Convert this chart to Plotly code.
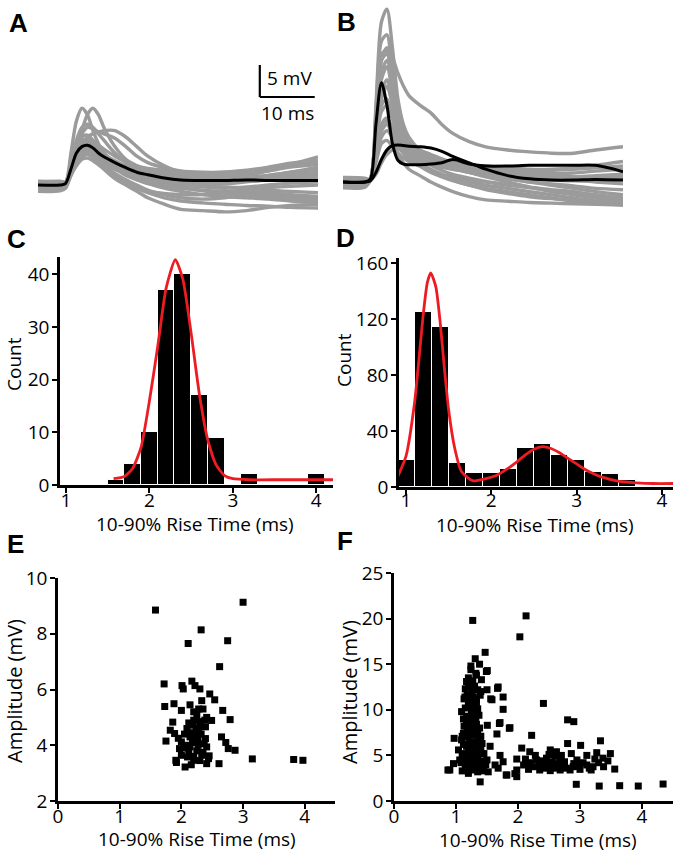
import plotly.graph_objects as go

W, H = 677, 853

# ---------------- DATA ----------------
T_MS = [0, 4, 5, 6, 7, 8, 9, 10, 11, 12, 14, 16, 18, 20, 23, 26, 30, 34, 38, 42, 46, 51]

A_GRAY = [
    [0.3, 0.2, 0.3, 5, 10, 12, 11, 8.5, 6.5, 5, 3.5, 2.5, 2, 1.5, 1, 0.8, 0.5, 0.5, 0.8, 1.2, 1.5, 1.8],
    [-0.3, -0.2, 0.2, 2, 5, 8.5, 11, 12, 11, 9, 6, 4, 3, 2.3, 1.8, 1.5, 1.2, 1.0, 1.2, 1.5, 2, 2.5],
    [0.5, 0.4, 0.4, 2, 4, 6, 7.5, 8, 8.3, 8.5, 8.5, 7.5, 6, 4.5, 3, 2, 1.5, 1.2, 1.5, 2.2, 3.2, 4.4],
    [-0.6, -0.5, 0.2, 3, 6, 8, 9, 8.8, 8.3, 8, 7.3, 6, 4.5, 3.5, 2.7, 2.2, 2, 2, 2.2, 2.6, 3, 3.5],
    [0.1, 0.0, 0.2, 3, 6, 7.5, 7.8, 7, 6, 5, 3.5, 2.5, 1.8, 1.3, 0.8, 0.5, 0.3, 0.2, 0.5, 0.8, 1.2, 1.5],
    [-0.8, -0.7, -0.3, 2, 4, 5, 5, 4.5, 3.5, 2.5, 1, 0, -1, -2, -3, -3.8, -4, -4.2, -4, -3.5, -3.2, -3.0],
    [-0.5, -0.6, -0.2, 2, 3.5, 4.5, 4.8, 4.3, 3.5, 2.8, 1.5, 0.5, -0.5, -1.2, -2, -2.5, -2.8, -3, -3.2, -3.3, -3.5, -3.6],
    [0.6, 0.5, 0.4, 2.5, 5, 6, 6, 5.5, 4.8, 4, 3, 2, 1.5, 1, 0.5, 0.3, 0, -0.3, -0.5, -0.8, -1, -1.2],
    [-0.9, -0.8, -0.4, 2.5, 4.5, 5.5, 5.5, 5, 4.3, 3.5, 2.5, 1.5, 0.8, 0.2, -0.3, -0.5, -0.8, -1, -1.2, -1.5, -2, -2.3],
    [0.2, 0.3, 0.3, 3.5, 7, 9, 9.5, 9, 8, 7, 5, 3.5, 2.5, 2, 1.5, 1.2, 1, 0.8, 1, 1.3, 1.8, 2.3],
    [-0.2, -0.3, 0.2, 2, 4, 5.2, 5.8, 5.5, 5, 4.5, 3.5, 2.7, 2.2, 1.8, 1.5, 1.2, 1, 1, 1.2, 1.5, 2, 2.8],
    [0.4, 0.3, 0.2, 2.2, 4.2, 5.3, 5.5, 5, 4.2, 3.5, 2.5, 1.8, 1.2, 0.8, 0.3, 0, -0.3, -0.5, -0.3, 0, 0.3, 0.5],
    [-0.7, -0.6, -0.3, 1.5, 3.5, 4.5, 4.8, 4.5, 4, 3.5, 2.5, 1.8, 1, 0.3, -0.5, -1, -1.5, -1.8, -2, -2.2, -2.5, -2.8],
    [0.0, 0.1, 0.2, 3, 6, 7, 7, 6.5, 5.5, 4.5, 3, 2, 1.5, 1.2, 1, 0.8, 0.5, 0.5, 0.6, 0.8, 1, 1.2],
    [0.5, 0.6, 0.5, 2.5, 5, 6.5, 6.8, 6.3, 5.5, 4.8, 3.8, 3, 2.5, 2.2, 2, 1.8, 1.5, 1.5, 1.8, 2.2, 2.8, 3.2],
    [-0.4, -0.5, -0.1, 1.8, 3.8, 5, 5.3, 4.8, 4, 3.2, 1.8, 0.8, 0, -0.8, -1.5, -2, -2.2, -2, -1.5, -1.5, -1.8, -2],
    [-1.0, -0.9, -0.5, 1.5, 3, 4, 4.2, 3.8, 3.2, 2.5, 1.2, 0.3, -0.5, -1, -1.3, -1.5, -1.5, -1.2, -1, -1.2, -1.5, -1.8],
    [0.2, 0.1, 0.1, 2.5, 5, 6.2, 6.4, 6, 5.3, 4.6, 3.4, 2.4, 1.7, 1.1, 0.5, 0.1, -0.2, -0.4, -0.6, -0.4, -0.2, 0.0],
    [0.0, -0.2, 0.1, 2.8, 5.5, 6.8, 7.2, 6.8, 6.2, 5.6, 4.5, 3.6, 3.0, 2.6, 2.3, 2.0, 1.9, 2.0, 2.3, 2.8, 3.4, 3.9],
    [-0.3, -0.4, 0.0, 2.2, 4.4, 5.6, 5.9, 5.5, 4.9, 4.2, 3.0, 2.0, 1.2, 0.6, 0.0, -0.4, -0.9, -1.3, -1.6, -1.9, -2.1, -2.4],
]
A_MEAN = [0, 0, 0.2, 2.5, 5, 6, 6.2, 5.8, 5, 4.4, 3.5, 2.7, 2, 1.6, 1.1, 0.8, 0.7, 0.7, 0.8, 0.7, 0.7, 0.7]

B_GRAY = [
    [0.3, 0.2, 0.5, 12, 25, 27, 21, 13, 9, 7, 5, 4, 3.5, 3, 2.5, 2, 1.5, 1, 0.8, 0.5, 0.5, 0.5],
    [-0.3, -0.2, 0.5, 9, 19, 21, 19.5, 17, 15, 13.5, 12, 10.8, 9, 7.6, 6.3, 5.5, 5, 4.7, 4.5, 4.5, 5, 5.5],
    [0.6, 0.5, 0.5, 10, 20, 20.5, 15, 10, 7, 5.5, 4, 3, 2.5, 2, 1.5, 1, 0.5, 0, -0.5, -1, -1.5, -2],
    [-0.6, -0.5, 0.5, 8, 16, 18, 14, 9, 6, 4.5, 3, 2, 1.2, 0.5, 0, -0.5, -1, -1.5, -2, -2.5, -3, -3.5],
    [0.1, 0.0, 0.4, 7, 13, 15, 12, 8, 6, 5, 4, 3.5, 3, 2.7, 2.5, 2.3, 2, 1.8, 1.8, 2, 2.2, 2.5],
    [-0.8, -0.7, 0.4, 6, 11, 12, 10, 7, 5, 3.8, 2.5, 1.5, 0.8, 0.2, -0.5, -1, -1.5, -2, -2.5, -3, -3.3, -3.6],
    [0.4, 0.5, 0.3, 5, 9, 10, 8.5, 6.5, 5, 4.2, 3.5, 3, 2.5, 2.2, 2, 1.8, 1.5, 1.2, 1, 0.8, 0.8, 0.8],
    [-0.4, -0.5, 0.3, 4, 7, 8, 7, 5.5, 4.5, 3.5, 2.5, 1.8, 1.2, 0.8, 0.3, 0, -0.5, -0.8, -1.2, -1.5, -2, -2.5],
    [0.5, 0.4, 0.2, 1.5, 3.5, 5, 5.8, 6, 5.8, 5.5, 5, 4.3, 3.6, 3, 2.3, 1.8, 1.2, 0.8, 0.5, 0.3, 0, -0.3],
    [-0.9, -0.8, 0.2, 1.2, 3, 4.3, 5, 5.2, 5, 4.8, 4.2, 3.5, 2.8, 2.2, 1.5, 0.8, 0, -0.8, -1.5, -2, -2.5, -3],
    [0.2, 0.1, 0.3, 5, 9, 9.5, 7, 4.5, 3, 2, 1, 0, -0.8, -1.5, -2.3, -2.8, -3, -3.2, -3.3, -3.4, -3.5, -3.6],
    [-0.2, -0.1, 0.4, 7, 14, 16, 13, 9, 6.5, 5, 3.5, 2.8, 2.3, 2, 1.8, 1.5, 1.2, 1, 0.8, 0.8, 1, 1.2],
    [0.7, 0.6, 0.3, 4, 8, 9, 7.5, 6, 5, 4.5, 4, 3.5, 3.2, 3, 2.7, 2.5, 2.3, 2, 2, 2.2, 2.6, 3.2],
    [0.0, -0.1, 0.5, 11, 22, 23, 17, 11, 8, 6, 4.5, 3.5, 2.8, 2.2, 1.5, 1, 0.5, 0, -0.3, -0.6, -1, -1.2],
    [-0.5, -0.6, 0.2, 3, 6, 6.5, 5.5, 4.5, 3.8, 3.2, 2.5, 1.8, 1, 0.3, -0.5, -1.2, -1.8, -2.3, -2.6, -2.8, -3, -3.2],
    [0.3, 0.4, 0.4, 6, 12, 13, 10, 7.5, 6, 5, 4, 3.2, 2.6, 2.2, 1.6, 1.2, 0.8, 0.5, 0.3, 0.2, 0.2, 0.3],
    [-0.1, 0.0, 0.5, 10, 19, 20, 16, 11, 8, 6.2, 4.6, 3.8, 3.2, 2.8, 2.4, 2.0, 1.6, 1.4, 1.3, 1.4, 1.7, 2.0],
    [0.4, 0.3, 0.4, 8, 17, 19, 15, 10, 7, 5.2, 3.6, 2.6, 1.8, 1.2, 0.6, 0.1, -0.4, -0.9, -1.3, -1.7, -2.1, -2.6],
]
B_MEAN_FAST = [0, 0, 0.5, 9, 15.5, 12, 6, 3.4, 2.8, 2.7, 2.7, 2.8, 3.0, 3.5, 2.8, 2.5, 2.5, 2.6, 2.6, 2.6, 2.6, 1.6]
B_MEAN_SLOW = [0, 0, 0.2, 1.5, 3.5, 5, 5.7, 5.8, 5.7, 5.6, 5.5, 5.3, 4.8, 4, 3, 2, 1, 0.5, 0.3, 0.3, 0.4, 0.3]

C_BIN_CENTERS = [1.6, 1.8, 2.0, 2.2, 2.4, 2.6, 2.8, 3.0, 3.2, 3.4, 3.6, 3.8, 4.0]
C_COUNTS = [1, 4, 10, 37, 40, 17, 9, 0, 2, 0, 0, 0, 2]
C_FIT_X = [1.57, 1.7, 1.8, 1.9, 2.0, 2.1, 2.2, 2.31, 2.4, 2.5, 2.6, 2.7, 2.8, 2.9, 3.0, 3.2, 3.6, 4.2]
C_FIT_Y = [1.2, 1.6, 3.2, 7.2, 16.0, 26.4, 37.4, 42.8, 39.1, 28.8, 17.1, 8.5, 3.8, 1.8, 1.2, 1.0, 1.0, 1.0]

D_BIN_CENTERS = [1.0, 1.2, 1.4, 1.6, 1.8, 2.0, 2.2, 2.4, 2.6, 2.8, 3.0, 3.2, 3.4, 3.6, 3.8, 4.0]
D_COUNTS = [19, 125, 114, 17, 10, 10, 13, 28, 31, 23, 19, 11, 9, 5, 0, 1]
D_FIT_X = [0.9, 1.0, 1.1, 1.15, 1.2, 1.25, 1.29, 1.35, 1.4, 1.45, 1.5, 1.57, 1.65, 1.78, 1.9, 2.05,
           2.2, 2.3, 2.4, 2.5, 2.6, 2.7, 2.8, 2.9, 3.0, 3.1, 3.2, 3.3, 3.5, 3.7, 3.9, 4.13]
D_FIT_Y = [7, 22, 60, 90, 122, 146, 153, 143, 118, 85, 55, 28, 11, 4.5, 5.5, 8,
           13.5, 18, 23, 27, 28.8, 27.5, 24.5, 20.5, 16.5, 12.5, 9.5, 7, 4, 3, 2.5, 2.5]

E_RISE = [1.58, 3.0, 2.32, 2.11, 2.75, 2.62, 1.72, 2.01, 2.03, 2.17, 2.22, 2.30, 2.46, 2.54,
          1.73, 1.88, 2.14, 2.0, 2.33, 2.35, 2.67, 2.79, 1.86, 2.25, 2.41, 2.49, 1.82, 1.89, 1.75,
          2.09, 2.18, 2.28, 2.39, 2.0, 2.14, 2.27, 2.39, 2.14, 2.27, 2.41, 1.97, 2.65, 2.72, 2.76, 2.87,
          1.91, 2.06, 2.1, 2.2, 2.33, 2.44, 2.41, 2.61, 2.0, 3.15, 3.82, 3.97, 1.92,
          2.12, 2.2, 2.3, 2.15, 2.22, 2.32, 2.08, 2.18, 2.25, 2.35, 2.12, 2.3, 2.2, 2.05, 2.37, 2.24,
          2.28, 2.2, 2.45, 2.3, 2.16, 2.05, 1.95, 2.38]
E_AMP = [8.85, 9.13, 8.14, 7.65, 7.75, 6.82, 6.2, 6.14, 6.02, 6.3, 6.14, 6.02, 5.84, 5.63,
         5.39, 5.49, 5.45, 5.25, 5.6, 5.3, 5.25, 4.92, 4.83, 5.07, 5.0, 4.89, 4.54, 4.42, 4.15,
         4.6, 4.72, 4.54, 4.66, 4.12, 4.3, 4.18, 4.24, 3.94, 4.0, 3.94, 3.88, 4.3, 4.1, 3.88, 3.82,
         3.46, 3.22, 3.58, 3.46, 3.64, 3.52, 3.34, 3.34, 3.64, 3.51, 3.49, 3.46, 3.38,
         4.8, 4.9, 4.85, 4.45, 4.35, 4.4, 4.0, 4.1, 3.8, 3.75, 3.75, 4.7, 3.6, 3.9, 4.05, 4.6,
         5.3, 5.2, 3.62, 3.45, 3.3, 4.4, 4.25, 4.9]

F_RISE = [1.27, 2.03, 2.13, 1.47, 1.31, 1.38, 1.24, 1.505, 1.33, 1.41, 1.17, 1.25, 1.5, 1.67, 1.145,
          1.39, 1.56, 1.76, 1.2, 1.33, 1.09, 1.76, 1.31, 1.17, 1.7, 1.87, 1.505, 1.12, 1.66, 0.97,
          1.09, 1.39, 1.31, 1.55, 1.04, 1.23, 1.41, 1.71, 1.06, 1.31, 1.5, 1.63, 1.76, 0.96, 0.9,
          0.87, 1.17, 1.33, 1.52, 1.68, 1.82, 1.95, 1.2, 1.39,
          1.10, 1.15, 1.2, 1.25, 1.3, 1.35, 1.4, 1.45,
          1.08, 1.13, 1.18, 1.22, 1.28, 1.33, 1.38, 1.43, 1.48,
          1.1, 1.15, 1.2, 1.25, 1.3, 1.35, 1.4, 1.45,
          1.12, 1.17, 1.22, 1.27, 1.32, 1.37, 1.42,
          1.1, 1.15, 1.2, 1.25, 1.3, 1.35, 1.4,
          1.13, 1.18, 1.23, 1.28, 1.33, 1.38,
          1.12, 1.17, 1.22, 1.27, 1.32, 1.37,
          1.15, 1.2, 1.25, 1.3, 1.35,
          1.13, 1.18, 1.23, 1.28, 1.33,
          1.15, 1.2, 1.26, 1.3, 1.35, 1.4,
          1.2, 1.27, 1.32, 1.24,
          1.49, 1.68, 1.58, 2.41, 1.71, 1.86, 2.8, 2.9, 2.22, 2.8, 3.01, 3.33, 2.06, 2.19, 2.52,
          2.62, 2.86, 3.11, 3.27, 3.49, 1.98, 2.3, 2.46, 2.68, 2.95, 3.24, 3.37, 2.09, 2.25, 2.41,
          2.57, 2.73, 2.89, 3.11, 3.21, 3.38, 3.56, 1.98, 2.17, 2.35, 2.52, 2.68, 2.84, 3.0, 1.98,
          1.81, 2.94, 3.31, 3.64, 3.94, 4.34,
          2.45, 2.55, 2.6, 2.65, 2.75, 2.5, 2.4, 2.7, 2.58, 2.78, 2.35, 2.5, 2.62, 2.9, 3.05, 3.15,
          2.2, 3.3, 3.45, 2.12, 2.28, 3.18, 2.42, 2.98]
F_AMP = [19.8, 18.0, 20.3, 16.3, 15.6, 15.0, 14.4, 14.3, 13.8, 13.3, 13.1, 12.5, 12.2, 12.35, 11.4,
         11.6, 11.2, 11.4, 10.3, 10.7, 9.8, 10.05, 9.25, 8.5, 8.5, 8.04, 8.3, 7.4, 7.35, 6.87,
         6.7, 6.7, 7.4, 6.0, 5.6, 5.8, 5.2, 5.0, 4.5, 4.1, 4.5, 3.95, 4.3, 4.1, 3.4,
         3.4, 3.4, 3.6, 3.2, 3.6, 2.85, 3.0, 3.03, 2.1,
         3.3, 3.5, 3.3, 3.6, 3.4, 3.2, 3.5, 3.3,
         4.2, 4.5, 4.0, 4.4, 4.2, 4.6, 4.1, 4.4, 4.0,
         5.2, 5.0, 5.5, 5.1, 5.4, 5.0, 5.6, 5.2,
         6.2, 6.0, 6.4, 6.1, 6.5, 6.0, 6.3,
         7.1, 7.4, 7.0, 7.5, 7.2, 7.6, 7.1,
         8.2, 8.0, 8.5, 8.1, 8.4, 8.0,
         9.0, 9.3, 9.1, 9.5, 9.0, 9.4,
         10.2, 10.5, 10.0, 10.4, 10.1,
         11.2, 11.6, 11.0, 11.4, 11.2,
         12.3, 12.8, 12.0, 12.6, 12.2, 12.0,
         13.5, 13.2, 14.0, 14.8,
         14.2, 12.5, 11.1, 10.7, 8.6, 7.97, 8.9, 8.7, 7.2, 6.3, 6.1, 6.6, 5.8, 5.4, 5.6,
         5.4, 5.2, 5.0, 5.3, 5.2, 4.6, 4.5, 4.7, 4.5, 4.5, 4.6, 4.7, 3.95, 3.76, 3.95,
         3.76, 3.95, 3.76, 3.95, 3.76, 3.76, 3.5, 3.4, 3.47, 3.4, 3.33, 3.4, 3.4, 3.47, 2.67,
         2.85, 1.83, 1.64, 1.68, 1.64, 1.86,
         4.2, 4.3, 4.9, 4.1, 4.3, 5.1, 4.4, 5.0, 3.6, 3.6, 4.1, 3.9, 3.9, 4.1, 4.2, 3.6,
         4.2, 4.2, 4.4, 4.6, 5.0, 3.4, 3.6, 3.8]

C_XTICKS = [1, 2, 3, 4]
C_YTICKS = [0, 10, 20, 30, 40]
D_XTICKS = [1, 2, 3, 4]
D_YTICKS = [0, 40, 80, 120, 160]
E_XTICKS = [0, 1, 2, 3, 4]
E_YTICKS = [2, 4, 6, 8, 10]
F_XTICKS = [0, 1, 2, 3, 4]
F_YTICKS = [0, 5, 10, 15, 20, 25]

XLABEL = "10-90% Rise Time (ms)"
PANEL_LETTERS = ["A", "B", "C", "D", "E", "F"]

# ---------------- STYLE / LAYOUT ----------------
FONT = "Open Sans"
GRAY = "rgb(155,155,155)"
RED = "rgb(237,28,36)"
FS = 19
TICKFONT = dict(family=FONT, size=FS, color="black")


def dx(a, b):
    return [a / W, b / W]


def dy(top, bottom):
    return [1 - bottom / H, 1 - top / H]


fig = go.Figure()

line_gray = dict(color=GRAY, width=3.4, shape="spline", smoothing=0.8)
line_black = dict(color="black", width=3.0, shape="spline", smoothing=0.8)

for tr in A_GRAY:
    fig.add_trace(go.Scatter(x=T_MS, y=tr, mode="lines", line=line_gray, xaxis="x", yaxis="y", hoverinfo="skip"))
fig.add_trace(go.Scatter(x=T_MS, y=A_MEAN, mode="lines", line=line_black, xaxis="x", yaxis="y"))
for tr in B_GRAY:
    fig.add_trace(go.Scatter(x=T_MS, y=tr, mode="lines", line=line_gray, xaxis="x2", yaxis="y2", hoverinfo="skip"))
for tr in (B_MEAN_FAST, B_MEAN_SLOW):
    fig.add_trace(go.Scatter(x=T_MS, y=tr, mode="lines", line=line_black, xaxis="x2", yaxis="y2"))

bar_marker = dict(color="black", line=dict(color="white", width=1))
fig.add_trace(go.Bar(x=C_BIN_CENTERS, y=C_COUNTS, width=0.2, marker=bar_marker, xaxis="x3", yaxis="y3"))
fig.add_trace(go.Scatter(x=C_FIT_X, y=C_FIT_Y, mode="lines", line=dict(color=RED, width=2.8, shape="spline", smoothing=0.6),
                         xaxis="x3", yaxis="y3"))
fig.add_trace(go.Bar(x=D_BIN_CENTERS, y=D_COUNTS, width=0.2, marker=bar_marker, xaxis="x4", yaxis="y4"))
fig.add_trace(go.Scatter(x=D_FIT_X, y=D_FIT_Y, mode="lines", line=dict(color=RED, width=2.8, shape="spline", smoothing=0.6),
                         xaxis="x4", yaxis="y4"))

fig.add_trace(go.Scatter(x=E_RISE, y=E_AMP, mode="markers", marker=dict(symbol="square", size=7, color="black"),
                         xaxis="x5", yaxis="y5"))
fig.add_trace(go.Scatter(x=F_RISE, y=F_AMP, mode="markers", marker=dict(symbol="square", size=7, color="black"),
                         xaxis="x6", yaxis="y6"))

hidden = dict(visible=False, fixedrange=True, automargin=False)
A_BASE_PX, B_BASE_PX, TOP_PX, BOT_PX, PX_PER_MV = 185, 182, 5, 215, 6.4

xcommon = dict(showline=True, linecolor="black", linewidth=2.5, ticks="outside", ticklen=5, tickwidth=2,
               tickcolor="black", showgrid=False, zeroline=False, tickfont=TICKFONT, fixedrange=True,
               automargin=False, ticklabelstandoff=-9)
ycommon = dict(xcommon, ticklabelstandoff=-1)

layout = dict(
    width=W, height=H, margin=dict(l=0, r=0, t=0, b=0, autoexpand=False), paper_bgcolor="white",
    plot_bgcolor="rgba(0,0,0,0)", showlegend=False, bargap=0,
    xaxis=dict(hidden, domain=dx(38, 318), range=[0, 51]),
    yaxis=dict(hidden, domain=dy(TOP_PX, BOT_PX),
               range=[-(BOT_PX - A_BASE_PX) / PX_PER_MV, (A_BASE_PX - TOP_PX) / PX_PER_MV]),
    xaxis2=dict(hidden, domain=dx(343, 623), range=[0, 51]),
    yaxis2=dict(hidden, domain=dy(TOP_PX, BOT_PX),
                range=[-(BOT_PX - B_BASE_PX) / PX_PER_MV, (B_BASE_PX - TOP_PX) / PX_PER_MV]),
    xaxis3=dict(xcommon, domain=dx(60, 333), range=[0.928, 4.2], tickvals=C_XTICKS, anchor="y3"),
    yaxis3=dict(ycommon, domain=dy(257, 485), range=[0, 43.3], tickvals=C_YTICKS, anchor="x3"),
    xaxis4=dict(xcommon, domain=dx(399, 673), range=[0.918, 4.13], tickvals=D_XTICKS, anchor="y4",
                ticklabelstandoff=-11),
    yaxis4=dict(ycommon, domain=dy(258, 487), range=[0, 163.6], tickvals=D_YTICKS, anchor="x4"),
    xaxis5=dict(xcommon, domain=dx(58, 335), range=[0, 4.49], tickvals=E_XTICKS, anchor="y5"),
    yaxis5=dict(ycommon, domain=dy(578, 801), range=[2, 10], tickvals=E_YTICKS, anchor="x5"),
    xaxis6=dict(xcommon, domain=dx(394, 673), range=[0, 4.5], tickvals=F_XTICKS, anchor="y6"),
    yaxis6=dict(ycommon, domain=dy(573, 801), range=[0, 25], tickvals=F_YTICKS, anchor="x6"),
)
fig.update_layout(**layout)

# scale bar in panel A data units (10 ms, 5 mV)
SB_T0, SB_V0, SB_T, SB_V = 40.4, 13.75, 10, 5
fig.add_shape(type="line", xref="x", yref="y", x0=SB_T0, x1=SB_T0 + SB_T, y0=SB_V0, y1=SB_V0,
              line=dict(color="black", width=2.2))
fig.add_shape(type="line", xref="x", yref="y", x0=SB_T0, x1=SB_T0, y0=SB_V0, y1=SB_V0 + SB_V,
              line=dict(color="black", width=2.2))
txt = dict(family=FONT, size=FS, color="black")
fig.add_annotation(x=SB_T0 + 0.9, y=SB_V0 + SB_V / 2 + 0.4, xref="x", yref="y", text=f"{SB_V} mV", showarrow=False,
                   xanchor="left", yanchor="middle", font=txt)
fig.add_annotation(x=SB_T0 + SB_T / 2, y=SB_V0 - 2.5, xref="x", yref="y", text=f"{SB_T} ms", showarrow=False,
                   xanchor="center", yanchor="middle", font=txt)


def pa(xpx, ypx, text, size=FS, angle=0, family=FONT):
    fig.add_annotation(x=xpx / W, y=1 - ypx / H, xref="paper", yref="paper", text=text, showarrow=False,
                       xanchor="center", yanchor="middle", textangle=angle,
                       font=dict(family=family, size=size, color="black"))


for (lx, ly), letter in zip([(18, 23), (346, 22), (16, 239), (345, 238), (15, 544), (345, 541)], PANEL_LETTERS):
    pa(lx, ly, f"<b>{letter}</b>", size=26, family="Liberation Sans")

pa(14, 364, "Count", angle=-90)
pa(344, 360, "Count", angle=-90)
pa(195, 524, XLABEL)
pa(535, 525, XLABEL)
pa(14, 691, "Amplitude (mV)", angle=-90, size=20)
pa(349, 692, "Amplitude (mV)", angle=-90, size=20)
pa(197, 839, XLABEL)
pa(538, 840, XLABEL)

# remove the page's default body margin so the 677x853 figure fills the window exactly
fig.write_html("out.html", config={"displayModeBar": False},
               post_script="document.body.style.margin='0';document.body.style.overflow='hidden';")
